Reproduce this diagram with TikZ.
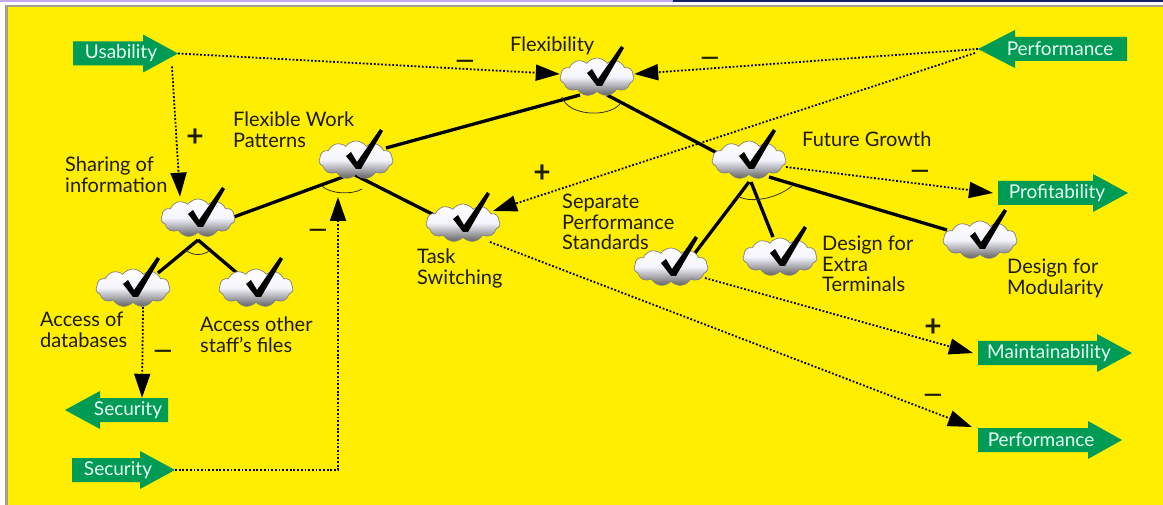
\documentclass[tikz,border=0pt]{standalone}
\usepackage{fontspec}
\setmainfont{Lato}
\usetikzlibrary{shapes.symbols,arrows.meta,calc}

\definecolor{bgyellow}{RGB}{255,238,0}
\definecolor{arrowgreen}{RGB}{0,155,85}
\definecolor{arrowtext}{RGB}{232,255,244}
\definecolor{stripviolet}{RGB}{200,168,240}
\definecolor{stripnavy}{RGB}{16,32,96}
\definecolor{framegray}{RGB}{160,160,140}
\definecolor{inkdark}{RGB}{30,28,0}

\pgfdeclarelayer{background}
\pgfsetlayers{background,main}

% green goal arrow: name, tail x, head-base x, tip x, centre y, text x, text
\newcommand\goalarrow[7]{%
  \fill[arrowgreen] (#2,#5-12) -- (#3,#5-12) -- (#3,#5-19) -- (#4,#5)
    -- (#3,#5+19) -- (#3,#5+12) -- (#2,#5+12) -- cycle;
  \node[arrowlabel] (#1) at (#6,#5) {#7};
  \coordinate (#1-tip) at (#4,#5);
  \coordinate (#1-tail) at (#2,#5);
}

\begin{document}
\begin{tikzpicture}[x=1pt,y=-1pt,
  softgoal/.style={cloud, cloud puffs=11, cloud puff arc=110, aspect=2,
    minimum width=74pt, minimum height=38pt, inner sep=0pt,
    draw=black!50, line width=0.7pt,
    top color=white, bottom color=black!62, middle color=black!8!blue!4!white},
  lbl/.style={anchor=north west, align=left, inner sep=0pt,
    font=\fontsize{20}{20.5}\selectfont, text=inkdark},
  arrowlabel/.style={inner sep=0pt, minimum height=24pt,
    font=\fontsize{19}{20}\selectfont, text=arrowtext},
  sign/.style={inner sep=0pt, font=\fontsize{30}{30}\selectfont\bfseries, text=inkdark},
  minus/.style={inner sep=0pt, font=\fontsize{24}{24}\selectfont\bfseries, text=inkdark},
  andline/.style={line width=3.3pt, black},
  andarc/.style={line width=0.8pt, black!80},
  dotarrow/.style={line width=1.8pt, black, dash pattern=on 1.8pt off 1.9pt,
    -{Triangle[length=24pt,width=16pt]}},
  checkmark/.pic={\fill[black] (-10,-4) -- (-5,-8) -- (1,2) -- (24,-31) -- (27,-29)
    -- (5,9) -- (0,9) -- cycle;}
]
\useasboundingbox (0,0) rectangle (1163,505);

% soft goals
\node[softgoal] (flex) at (597,77) {};
\node[softgoal] (fwp)  at (356,160) {};
\node[softgoal] (share) at (198,218) {};
\node[softgoal] (adb)  at (133,288) {};
\node[softgoal] (aosf) at (256,288) {};
\node[softgoal] (task) at (463,223) {};
\node[softgoal] (fg)   at (749,160) {};
\node[softgoal] (sps)  at (671,267) {};
\node[softgoal] (det)  at (780,257) {};
\node[softgoal] (mod)  at (980,240) {};

\foreach \n in {flex,fwp,share,adb,aosf,task,fg,sps,det,mod}
  \pic at (\n) {checkmark};

% labels
\node[lbl] (flexL)  at (510,37)  {Flexibility};
\node[lbl] (fwpL)   at (233,112) {Flexible Work\\Patterns};
\node[lbl] (shareL) at (65,157)  {Sharing of\\information};
\node[lbl] (adbL)   at (40,312)  {Access of\\databases};
\node[lbl] (aosfL)  at (200,317) {Access other\\staff's files};
\node[lbl] (taskL)  at (417,249) {Task\\Switching};
\node[lbl] (fgL)    at (802,132) {Future Growth};
\node[lbl] (spsL)   at (562,194) {Separate\\Performance\\Standards};
\node[lbl] (detL)   at (822,236) {Design for\\Extra\\Terminals};
\node[lbl] (modL)   at (1007,259) {Design for\\Modularity};

% green goal arrows
\goalarrow{usab}{73}{143}{178}{53.5}{121}{Usability}
\goalarrow{perft}{1127}{1015}{978}{49}{1060}{Performance}
\goalarrow{prof}{998}{1093}{1128}{193}{1057}{Profitability}
\goalarrow{maint}{978}{1097}{1132}{353}{1049}{Maintainability}
\goalarrow{perfb}{978}{1088}{1122}{440}{1041}{Performance}
\goalarrow{secl}{168}{100}{65}{410}{128}{Security}
\goalarrow{secr}{72}{140}{175}{470}{118}{Security}

% contribution links
\draw[dotarrow] (usab-tip) -- ($(flex.west)+(0,-3)$);
\draw[dotarrow] (perft-tip) -- ($(flex.east)+(0,-3)$);
\draw[dotarrow] ($(usab-tip)+(-6,13)$) -- ($(share.north)+(-18,-2)$);
\draw[dotarrow] ($(perft-tip)+(-3,4)$) -- ($(task)+(30,-12)$);
\draw[dotarrow] ($(fg)+(37,7)$) -- ($(prof-tail)+(-5,0)$);
\draw[dotarrow] ($(adb)+(10,19)$) -- ($(secl.north)+(14,0)$);
\draw[dotarrow] (secr-tip) -| ($(fwp)+(-18,37)$);
\draw[dotarrow] ($(sps)+(34,11)$) -- ($(maint-tail)+(-5,0)$);
\draw[dotarrow] ($(task)+(27,19)$) -- ($(perfb-tail)+(-6,-13)$);

% contribution signs
\node[minus] (m1) at (465,64) {—};
\node[minus] (m2) at (710,61) {—};
\node[minus] (m3) at (318,233) {—};
\node[minus] (m4) at (920,174) {—};
\node[minus] (m5) at (163,354) {—};
\node[minus] (m6) at (933,398) {—};
\node[sign] (p1) at (195,138) {+};
\node[sign] (p2) at (542,174) {+};
\node[sign] (p3) at (933,328) {+};

\begin{pgfonlayer}{background}
  \fill[white] (0,0) rectangle (1163,505);
  \fill[stripviolet] (0,0) rectangle (673,2.5);
  \fill[stripnavy] (673,0) rectangle (1163,2.5);
  \fill[framegray] (5,5) rectangle (1163,505);
  \fill[bgyellow] (7.5,7.5) rectangle (1163,505);
  % decomposition links
  \draw[andline] ($(flex)+(-17,18)$) -- ($(fwp)+(30,-12)$);
  \draw[andline] ($(flex)+(10,18)$) -- ($(fg)+(-30,-6)$);
  \draw[andline] ($(fwp)+(-13,17)$) -- ($(share)+(33,0)$);
  \draw[andline] ($(fwp)+(-1,15)$) -- ($(task)+(-25,-6)$);
  \draw[andline] ($(share)+(0,22)$) -- ($(adb)+(25,-15)$);
  \draw[andline] ($(share)+(0,22)$) -- ($(aosf)+(-19,-15)$);
  \draw[andline] ($(fg)+(0,22)$) -- ($(sps)+(24,-14)$);
  \draw[andline] ($(fg)+(2,22)$) -- ($(det)+(-7,-20)$);
  \draw[andline] ($(fg)+(20,17)$) -- ($(mod)+(-33,-10)$);
  % AND arcs
  \draw[andarc] ($(flex)+(-35,20)$) .. controls ($(flex)+(-29,39)$) and ($(flex)+(11,41)$) .. ($(flex)+(23,27)$);
  \draw[andarc] ($(fwp)+(-34,26)$) .. controls ($(fwp)+(-26,34)$) and ($(fwp)+(-4,35)$) .. ($(fwp)+(6,29)$);
  \draw[andarc] ($(fg)+(-11,36)$) .. controls ($(fg)+(-1,43)$) and ($(fg)+(26,40)$) .. ($(fg)+(43,26)$);
  \draw[andarc] ($(share)+(-12,32)$) .. controls ($(share)+(-6,38)$) and ($(share)+(6,38)$) .. ($(share)+(12,32)$);
\end{pgfonlayer}
\end{tikzpicture}
\end{document}
